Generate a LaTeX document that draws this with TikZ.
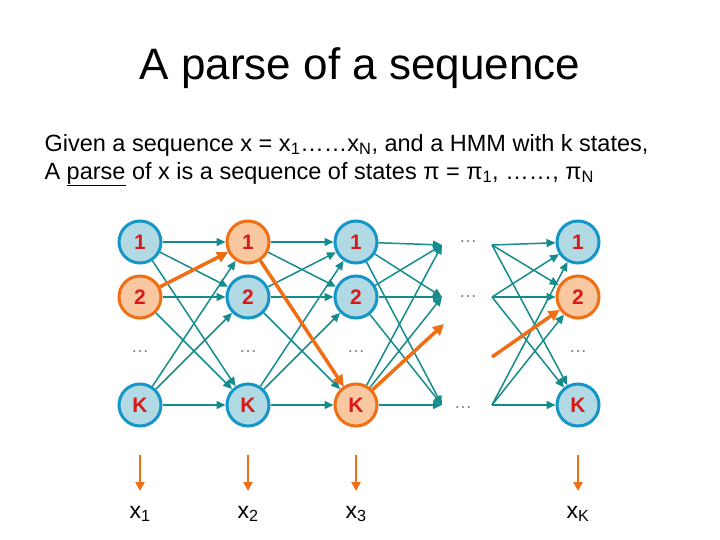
\documentclass[tikz,border=0pt]{standalone}
\usepackage{fontspec}
\setmainfont{Liberation Sans}
\usetikzlibrary{arrows.meta}
\definecolor{teal1}{RGB}{20,140,140}
\definecolor{nfill}{RGB}{178,218,228}
\definecolor{nbord}{RGB}{20,150,200}
\definecolor{ora}{RGB}{240,110,20}
\definecolor{ofill}{RGB}{250,200,160}
\definecolor{rednum}{RGB}{215,25,25}
\tikzset{
 st/.style={circle,draw=nbord,fill=nfill,line width=3pt,minimum size=42pt,inner sep=0pt,font=\fontsize{21}{21}\selectfont\bfseries,text=rednum},
 ost/.style={st,draw=ora,fill=ofill},
 tr/.style={draw=teal1,line width=1.5pt,-{Triangle[length=9pt,width=8pt]}},
 otr/.style={draw=ora,line width=3.5pt,-{Triangle[length=11pt,width=11pt]}},
 dts/.style={text=gray,font=\fontsize{18}{18}\selectfont},
 obs/.style={font=\fontsize{23}{23}\selectfont}
}
\begin{document}
\begin{tikzpicture}[x=1pt,y=-1pt]
\useasboundingbox (0,0) rectangle (720,540);
\node at (360,68) {\fontsize{44}{44}\selectfont A parse of a sequence};
\node[anchor=west] at (41,145) {\fontsize{23.5}{23.5}\selectfont Given a sequence x = x\textsubscript{1}……x\textsubscript{N}, and a HMM with k states,};
\node[anchor=west] at (41,174) {\fontsize{23.5}{23.5}\selectfont A \underline{parse} of x is a sequence of states π = π\textsubscript{1}, ……, π\textsubscript{N}};
% nodes
\node[st] (a1) at (140,242) {1};
\node[ost] (a2) at (140,297) {2};
\node[dts] (a3) at (140,352) {…};
\node[st] (aK) at (140,405) {K};
\node[ost] (b1) at (248,242) {1};
\node[st] (b2) at (248,297) {2};
\node[dts] (b3) at (248,352) {…};
\node[st] (bK) at (248,405) {K};
\node[st] (c1) at (356,242) {1};
\node[st] (c2) at (356,297) {2};
\node[dts] (c3) at (356,352) {…};
\node[ost] (cK) at (356,405) {K};
\node[dts] (d1) at (468,242) {…};
\node[dts] (d2) at (468,297) {…};
\node[dts] (dK) at (463,408) {…};
\node[st] (e1) at (578,242) {1};
\node[ost] (e2) at (578,297) {2};
\node[dts] (e3) at (578,352) {…};
\node[st] (eK) at (578,405) {K};
% teal transitions
\foreach \s in {a1,a2,aK}{\foreach \t in {b1,b2,bK}{\draw[tr] (\s) -- (\t);}}
\foreach \s in {b1,b2,bK}{\foreach \t in {c1,c2,cK}{\draw[tr] (\s) -- (\t);}}
\coordinate (p1) at (442,245);
\coordinate (p2) at (442,297);
\coordinate (pK) at (442,405);
\coordinate (q1) at (492,245);
\coordinate (q2) at (492,297);
\coordinate (qK) at (492,405);
\foreach \s in {c1,c2,cK}{\foreach \t in {p1,p2,pK}{\draw[tr] (\s) -- (\t);}}
\foreach \s in {q1,q2,qK}{\foreach \t in {e1,e2,eK}{\draw[tr] (\s) -- (\t);}}
% orange path
\coordinate (o1) at (444,324);
\coordinate (o2) at (492,357);
\draw[otr] (a2) -- (b1);
\draw[otr] (b1) -- (cK);
\draw[otr] (cK) -- (o1);
\draw[otr] (o2) -- (e2);
% observations
\foreach \c/\l/\x in {a/1/140,b/2/248,c/3/356,e/K/578}{
 \coordinate (s\c) at (\x,455);
 \node[obs] (x\c) at (\x,514) {x\textsubscript{\l}};
 \draw[draw=ora,line width=2.5pt,-{Triangle[length=9pt,width=9pt]}] (s\c) -- (\x,491);
}
\end{tikzpicture}
\end{document}
